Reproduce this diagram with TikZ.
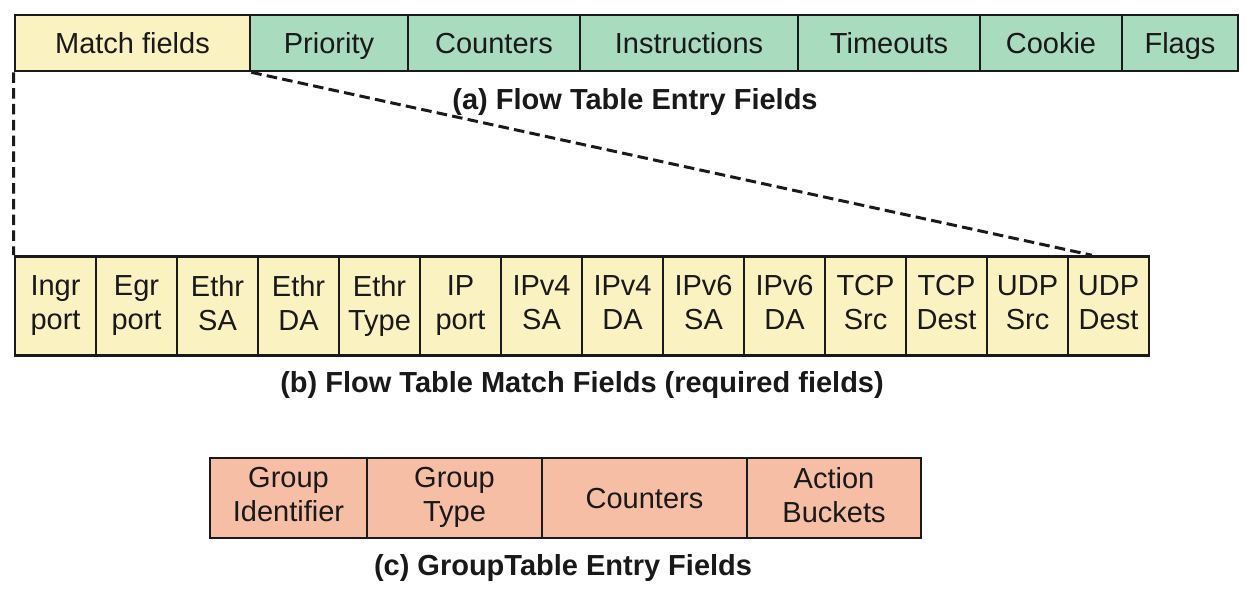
\documentclass[tikz,border=0pt]{standalone}
\usepackage{fontspec}
\setmainfont{Liberation Sans}
\usetikzlibrary{calc}
\definecolor{matchyellow}{HTML}{FBF2C2}
\definecolor{entrygreen}{HTML}{A9DBBF}
\definecolor{groupsalmon}{HTML}{F6BEA4}
\definecolor{boxline}{HTML}{1A1A1A}
\newcommand{\fstrut}{\vrule width 0pt height 15.5pt depth 3.8pt}
\begin{document}
\begin{tikzpicture}[x=0.02cm, y=-0.02cm,
		field/.style = {draw=boxline, line width=1.5pt, inner sep=0, align=center,
			font=\fontsize{16.5}{19.2}\selectfont, text=black!90, execute at begin node=\fstrut},
		entry/.style = {field, fill=entrygreen, minimum height=1.12cm},
		matchbox/.style = {field, fill=matchyellow, minimum height=1.98cm, minimum width=1.62cm},
		groupbox/.style = {field, fill=groupsalmon, minimum height=1.6cm},
		caption/.style = {font=\fontsize{16.5}{19.2}\selectfont\bfseries, text=black!90},
		zoomline/.style = {draw=boxline, line width=1.7pt, dash pattern=on 6pt off 3pt}]
	\useasboundingbox (0,0) rectangle (1250,592);
	% (a) flow table entry
	\node[entry, fill=matchyellow, minimum width=4.70cm] (match) at (132.5,43) {Match fields};
	\node[entry, minimum width=3.16cm] (prio) at (329,43) {Priority};
	\node[entry, minimum width=3.44cm] (count) at (494,43) {Counters};
	\node[entry, minimum width=4.36cm] (instr) at (689,43) {Instructions};
	\node[entry, minimum width=3.64cm] (tout) at (889,43) {Timeouts};
	\node[entry, minimum width=2.84cm] (cookie) at (1051,43) {Cookie};
	\node[entry, minimum width=2.32cm] (flags) at (1180,43) {Flags};
	\node[caption] (capa) at (635,102) {(a) Flow Table Entry Fields};
	% (b) match fields
	\foreach \upper/\lower [count=\i] in {Ingr/port, Egr/port, Ethr/SA, Ethr/DA, Ethr/Type, IP/port,
		IPv4/SA, IPv4/DA, IPv6/SA, IPv6/DA, TCP/Src, TCP/Dest, UDP/Src, UDP/Dest}
		\node[matchbox] (m\i) at ({55.5+81*(\i-1)},306) {\upper\\\lower\fstrut};
	\node[caption] (capb) at (582,385) {(b) Flow Table Match Fields (required fields)};
	\draw[zoomline] (match.south west) -- (m1.north west);
	\draw[zoomline] (match.south east) -- ($(m14.north west)!0.3!(m14.north east)$);
	% (c) group table entry
	\node[groupbox, minimum width=3.14cm] (gid) at (288.5,498) {Group\\Identifier\fstrut};
	\node[groupbox, minimum width=3.50cm] (gtype) at (454.5,498) {Group\\Type\fstrut};
	\node[groupbox, minimum width=4.10cm] (gcount) at (644.5,498) {Counters};
	\node[groupbox, minimum width=3.48cm] (gbuck) at (834,498) {Action\\Buckets\fstrut};
	\node[caption] (capc) at (563,568) {(c) GroupTable Entry Fields};
\end{tikzpicture}
\end{document}
